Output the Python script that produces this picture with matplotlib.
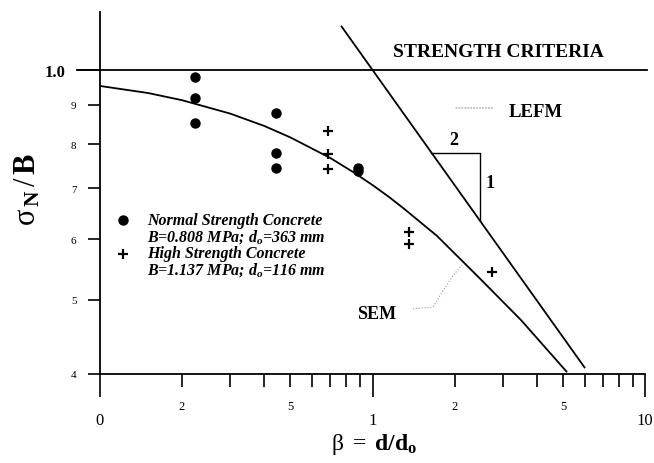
import matplotlib
matplotlib.use('Agg')
import matplotlib.pyplot as plt
from matplotlib.ticker import FixedLocator, FixedFormatter

plt.rcParams['font.family'] = ['Liberation Serif', 'DejaVu Serif']
plt.rcParams['mathtext.fontset'] = 'custom'
plt.rcParams['mathtext.rm'] = 'Liberation Serif'
plt.rcParams['mathtext.it'] = 'Liberation Serif:italic'
plt.rcParams['mathtext.bf'] = 'Liberation Serif:bold'
plt.rcParams['mathtext.bfit'] = 'Liberation Serif:italic:bold'

# ---------------- data ----------------
nsc_beta = [0.223, 0.223, 0.223, 0.443, 0.443, 0.443, 0.887, 0.887]
nsc_sigma = [0.980, 0.918, 0.852, 0.879, 0.779, 0.744, 0.745, 0.737]

hsc_beta = [0.689, 0.689, 0.689, 1.365, 1.365, 2.737]
hsc_sigma = [0.833, 0.776, 0.742, 0.613, 0.592, 0.544]

sem_beta = [0.1, 0.15, 0.2, 0.3, 0.4, 0.5, 0.7, 0.85, 1.0, 1.15, 1.3, 1.72, 2.47, 3.5, 5.15]
sem_sigma = [0.953, 0.933, 0.913, 0.877, 0.845, 0.816, 0.767, 0.735, 0.707, 0.682,
             0.659, 0.607, 0.534, 0.471, 0.403]

lefm_beta = [0.77, 6.0]
lefm_sigma = [1.14, 0.408]

strength_sigma = 1.0

tri_beta = [1.646, 2.476, 2.476]
tri_sigma = [0.779, 0.779, 0.636]

x_major = [0.1, 1, 10]
x_major_labels = ['0', '1', '10']
x_minor = [0.2, 0.3, 0.4, 0.5, 0.6, 0.7, 0.8, 0.9, 2, 3, 4, 5, 6, 7, 8, 9]
x_minor_labels = ['2', '', '', '5', '', '', '', '', '2', '', '', '5', '', '', '', '']
y_major = [1.0]
y_major_labels = ['1.0']
y_minor = [0.4, 0.5, 0.6, 0.7, 0.8, 0.9]
y_minor_labels = ['4', '5', '6', '7', '8', '9']

# ---------------- figure ----------------
fig = plt.figure(figsize=(6.54, 4.64), dpi=100)
ax = fig.add_axes([100/654, 1-375/464, 545/654, 362/464])
ax.set_xscale('log')
ax.set_yscale('log')
ax.set_xlim(0.1, 10)
ax.set_ylim(0.4, 1.191)

for s in ['top', 'right']:
    ax.spines[s].set_visible(False)
for s in ['left', 'bottom']:
    ax.spines[s].set_linewidth(1.3)

ax.xaxis.set_major_locator(FixedLocator(x_major))
ax.xaxis.set_major_formatter(FixedFormatter(x_major_labels))
ax.xaxis.set_minor_locator(FixedLocator(x_minor))
ax.xaxis.set_minor_formatter(FixedFormatter(x_minor_labels))
ax.yaxis.set_major_locator(FixedLocator(y_major))
ax.yaxis.set_major_formatter(FixedFormatter(y_major_labels))
ax.yaxis.set_minor_locator(FixedLocator(y_minor))
ax.yaxis.set_minor_formatter(FixedFormatter(y_minor_labels))

ax.tick_params(axis='both', which='major', length=16.5, width=1.2, direction='out')
ax.tick_params(axis='both', which='minor', length=9, width=1.2, direction='out')
ax.tick_params(axis='x', which='major', pad=11, labelsize=12)
ax.tick_params(axis='x', which='minor', pad=10, labelsize=9)
ax.tick_params(axis='y', which='major', pad=8, labelsize=12)
ax.tick_params(axis='y', which='minor', pad=8, labelsize=8)
for lab in ax.yaxis.get_majorticklabels():
    lab.set_fontweight('bold')

# strength criteria line
ax.axhline(strength_sigma, xmin=-0.042, xmax=1.004, color='black', lw=1.3, clip_on=False)

# LEFM
ax.plot(lefm_beta, lefm_sigma, color='black', lw=1.3, clip_on=False)
# SEM
ax.plot(sem_beta, sem_sigma, color='black', lw=1.3)
# slope triangle
ax.plot(tri_beta, tri_sigma, color='black', lw=1.0)

# data
ax.plot(nsc_beta, nsc_sigma, 'o', color='black', ms=6.5, ls='none')
ax.plot(hsc_beta, hsc_sigma, '+', color='black', ms=7, mew=1.6, ls='none')

# annotations
T = ax.transAxes
ax.text(0.731, 0.892, 'STRENGTH CRITERIA', transform=T, ha='center', va='center',
        fontsize=14, fontweight='bold')
ax.text(0.799, 0.7265, 'LEFM', transform=T, ha='center', va='center',
        fontsize=13.5, fontweight='bold')
ax.annotate('', xy=(0.728, 0.735), xytext=(0.648, 0.735), xycoords=T, textcoords=T,
            arrowprops=dict(arrowstyle='-', color='#999999', lw=0.8, ls=':'))
ax.text(0.65, 0.649, '2', transform=T, ha='center', va='center', fontsize=13, fontweight='bold')
ax.text(0.716, 0.528, '1', transform=T, ha='center', va='center', fontsize=13, fontweight='bold')
ax.text(0.507, 0.166, 'SEM', transform=T, ha='center', va='center', fontsize=13, fontweight='bold')
lead_x = [0.574, 0.611, 0.629, 0.646, 0.664]
lead_y = [0.180, 0.185, 0.229, 0.268, 0.301]
ax.plot(lead_x, lead_y, transform=T, color='#999999', lw=0.8, ls=':')

# legend (manual)
ax.plot([0.042], [0.425], 'o', transform=T, color='black', ms=6.5, clip_on=False)
ax.plot([0.042], [0.331], '+', transform=T, color='black', ms=7, mew=1.6, clip_on=False)
leg_kw = dict(transform=T, ha='left', va='center', fontsize=11.5, fontweight='bold', fontstyle='italic')
ax.text(0.086, 0.425, 'Normal Strength Concrete', **leg_kw)
ax.text(0.086, 0.381, r'B=0.808 MPa; $\mathbfit{d}_{\mathbfit{o}}$=363 mm', **leg_kw)
ax.text(0.086, 0.335, 'High Strength Concrete', **leg_kw)
ax.text(0.086, 0.291, r'B=1.137 MPa; $\mathbfit{d}_{\mathbfit{o}}$=116 mm', **leg_kw)

# axis labels
ax.set_ylabel(r'$\mathrm{σ}_{\,\mathbf{N}}\,/\,\mathbf{B}$', fontsize=22)
ax.yaxis.set_label_coords(-0.106, 0.511)
ax.set_xlabel(r'$\mathrm{β}\ =\ \mathbf{d/d}_{\mathbf{o}}$', fontsize=17)
ax.xaxis.set_label_coords(0.503, -0.158)

fig.savefig('out.png', dpi=100)
